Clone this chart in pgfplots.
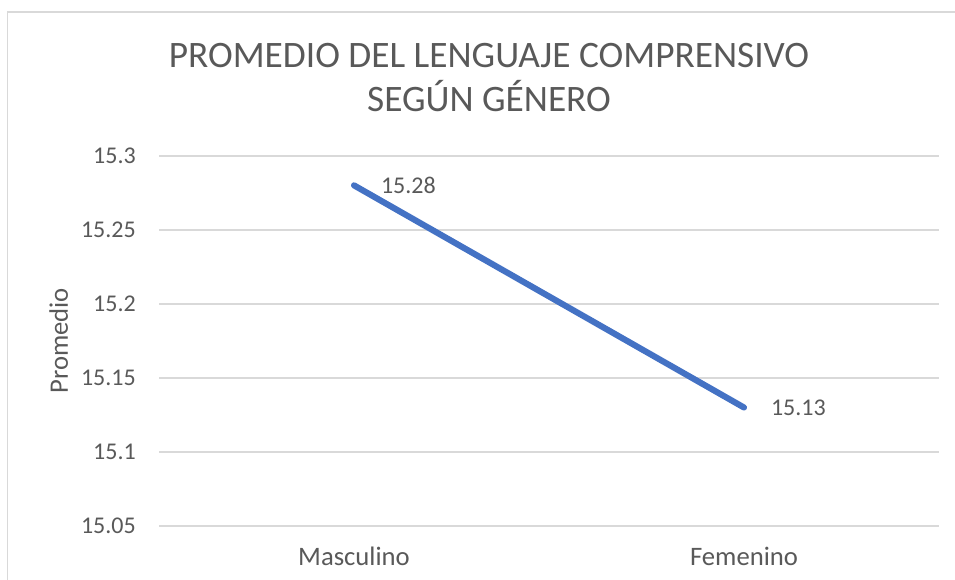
\documentclass[border=0pt]{standalone}
\usepackage{pgfplots}
\pgfplotsset{compat=1.18}
\usepackage{fontspec}
\setmainfont{Carlito}
\definecolor{txt}{HTML}{595959}
\definecolor{grd}{HTML}{D9D9D9}
\definecolor{ser}{HTML}{4472C4}
\begin{document}
\begin{tikzpicture}
\useasboundingbox (0,0) rectangle (716.25pt,435pt);
\draw[grd, line width=1.2pt] (5.6pt,-10pt) -- (5.6pt,426pt) -- (730pt,426pt);
\node[txt, anchor=base, inner sep=0pt, font=\fontsize{28}{34}\selectfont] at (366.75pt,384pt) {PROMEDIO DEL LENGUAJE COMPRENSIVO};
\node[txt, anchor=base, inner sep=0pt, font=\fontsize{28}{34}\selectfont] at (366.75pt,351pt) {SEGÚN GÉNERO};
\begin{axis}[
  at={(119.25pt,40.5pt)}, anchor=south west,
  scale only axis, width=585pt, height=277.7pt,
  xmin=-0.5, xmax=1.5, ymin=15.05, ymax=15.3,
  xtick={0,1}, xticklabels={Masculino,Femenino},
  ytick={15.05,15.1,15.15,15.2,15.25,15.3},
  yticklabels={15.05,15.1,15.15,15.2,15.25,15.3},
  axis line style={draw=none},
  major tick length=0pt,
  ymajorgrids, grid style={grd, line width=1.4pt},
  tick label style={txt, font=\fontsize{18}{22}\selectfont, inner sep=0pt},
  yticklabel style={anchor=east, xshift=-17.25pt},
  xticklabel style={anchor=base, yshift=-29.5pt, font=\fontsize{20}{24}\selectfont},
  ylabel={Promedio},
  every axis y label/.style={at={(axis description cs:-0.11667,0.5)}, rotate=90, anchor=base, inner sep=0pt, txt, font=\fontsize{20}{24}\selectfont},
  clip=false,
]
\addplot[ser, line width=4.6pt, line cap=round, line join=round,
  point meta=explicit symbolic,
  nodes near coords,
  nodes near coords style={anchor=west, xshift=18pt, inner sep=0pt, txt, font=\fontsize{18}{22}\selectfont}]
  coordinates {(0,15.28) [15.28] (1,15.13) [15.13]};
\end{axis}
\end{tikzpicture}
\end{document}
